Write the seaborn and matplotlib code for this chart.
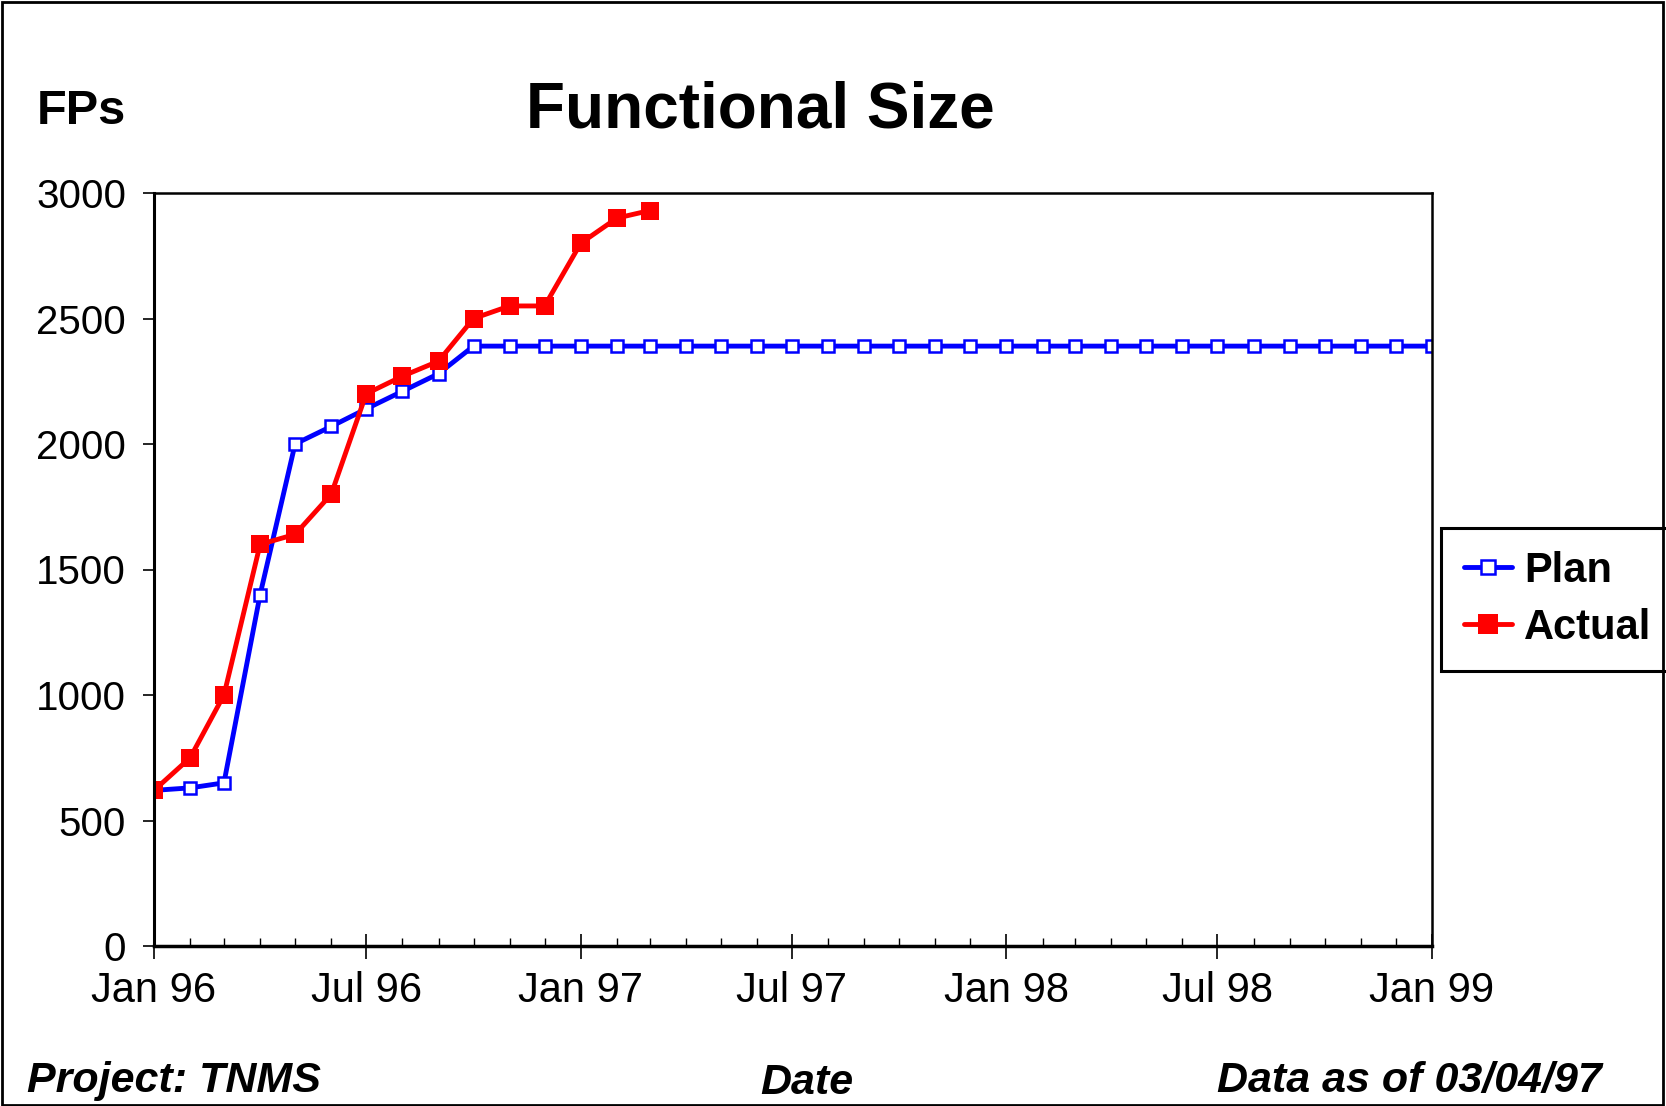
import pandas as pd
import seaborn as sns
import matplotlib.pyplot as plt
import matplotlib.dates as mdates
from matplotlib.patches import Rectangle

# Data, monthly from Jan 96
plan_fp = [620, 630, 650, 1400, 2000, 2070, 2140, 2210, 2280, 2390,
           2390, 2390, 2390, 2390, 2390, 2390, 2390, 2390, 2390, 2390,
           2390, 2390, 2390, 2390, 2390, 2390, 2390, 2390, 2390, 2390,
           2390, 2390, 2390, 2390, 2390, 2390, 2390]
actual_fp = [620, 750, 1000, 1600, 1640, 1800, 2200, 2270, 2330, 2500,
             2550, 2550, 2800, 2900, 2930]
y_ticks = [0, 500, 1000, 1500, 2000, 2500, 3000]

plan = pd.DataFrame({"Date": pd.date_range("1996-01-01", periods=len(plan_fp), freq="MS"),
                     "FPs": plan_fp})
actual = pd.DataFrame({"Date": pd.date_range("1996-01-01", periods=len(actual_fp), freq="MS"),
                       "FPs": actual_fp})

sns.set_style("white")
plt.rcParams['font.family'] = ['Liberation Sans', 'DejaVu Sans']
plt.rcParams['text.color'] = 'black'
plt.rcParams['xtick.color'] = 'black'
plt.rcParams['ytick.color'] = 'black'

W, H = 1666, 1106
fig = plt.figure(figsize=(W / 100, H / 100), dpi=100)
ax = fig.add_axes([154 / W, 1 - 946 / H, (1432 - 154) / W, (946 - 193) / H])

sns.lineplot(data=plan, x="Date", y="FPs", ax=ax, color="#0000ff", lw=3.5,
             marker="s", markersize=9, markerfacecolor="white",
             markeredgecolor="#0000ff", markeredgewidth=1.8, label="Plan")
sns.lineplot(data=actual, x="Date", y="FPs", ax=ax, color="#ff0000", lw=3.5,
             marker="s", markersize=13, markerfacecolor="#ff0000",
             markeredgecolor="#ff0000", markeredgewidth=0, label="Actual")

ax.set_xlim(pd.Timestamp("1996-01-01"), pd.Timestamp("1999-01-01"))
ax.set_ylim(0, 3000)
ax.set_yticks(y_ticks)
ax.set_xlabel("")
ax.set_ylabel("")
for s in ax.spines.values():
    s.set_color("black")
    s.set_linewidth(1.8)
ax.spines["bottom"].set_linewidth(2.5)
ax.spines["left"].set_linewidth(2.2)

ax.xaxis.set_major_locator(mdates.MonthLocator(bymonth=(1, 7)))
ax.xaxis.set_minor_locator(mdates.MonthLocator())
ax.xaxis.set_major_formatter(mdates.DateFormatter("%b %y"))
ax.tick_params(axis="x", which="major", direction="inout", length=18, width=1.2,
               labelsize=30, pad=9, bottom=True)
ax.tick_params(axis="x", which="minor", direction="in", length=6, width=1, bottom=True)
ax.tick_params(axis="y", which="major", direction="out", length=8, width=1.2,
               labelsize=29, pad=12, left=True)

leg = ax.legend(loc="upper left", bbox_to_anchor=(1441 / W, 1 - 528 / H),
                bbox_transform=fig.transFigure, prop={"size": 30, "weight": "bold"},
                frameon=True, fancybox=False, edgecolor="black", handlelength=1.15,
                handletextpad=0.3, borderpad=0.55, labelspacing=0.4,
                borderaxespad=0, markerscale=1.1)
leg.get_frame().set_linewidth(2.2)
leg.get_frame().set_alpha(1)

fig.text(760 / W, 1 - 127 / H, "Functional Size", ha="center", va="baseline",
         fontsize=46, fontweight="bold")
fig.text(37 / W, 1 - 124 / H, "FPs", ha="left", va="baseline",
         fontsize=35, fontweight="bold")
fig.text(27 / W, 1 - 1092 / H, "Project: TNMS", ha="left", va="baseline",
         fontsize=31, fontweight="bold", style="italic")
fig.text(807 / W, 1 - 1094 / H, "Date", ha="center", va="baseline",
         fontsize=31, fontweight="bold", style="italic")
fig.text(1602 / W, 1 - 1092 / H, "Data as of 03/04/97", ha="right", va="baseline",
         fontsize=31, fontweight="bold", style="italic")

fig.patches.append(Rectangle((0.001, 0.001), 0.997, 0.997, transform=fig.transFigure,
                             fill=False, edgecolor="black", linewidth=2))

fig.savefig("out.png", dpi=100)
